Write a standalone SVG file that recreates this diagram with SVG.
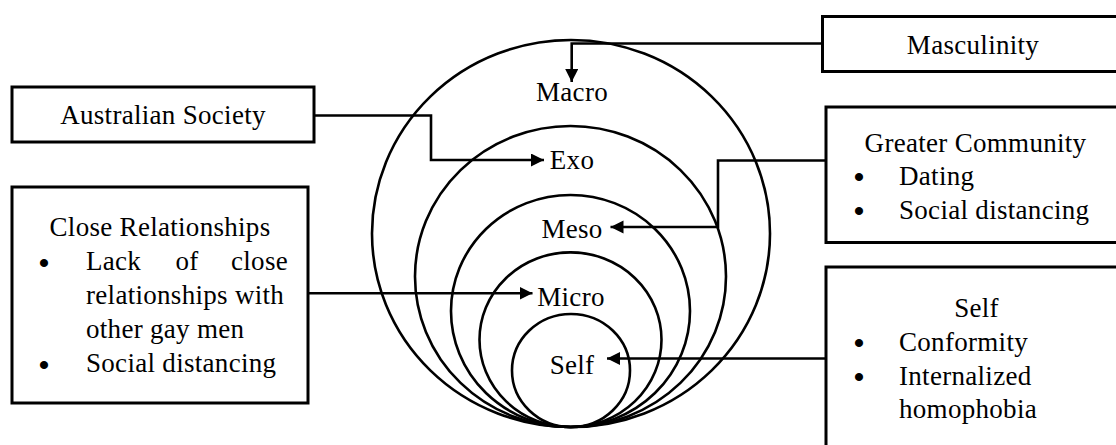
<svg xmlns="http://www.w3.org/2000/svg" width="1116" height="445" viewBox="0 0 1116 445">
<style>
.box{fill:#fff;stroke:#000;stroke-width:3}
.ring{fill:none;stroke:#000;stroke-width:2.6}
.conn{fill:none;stroke:#000;stroke-width:2.6;marker-end:url(#arr)}
.t{font-family:"Liberation Serif","Times New Roman",serif;font-size:27px;letter-spacing:0.3px;fill:#000}
.b{font-family:"Liberation Serif","Times New Roman",serif;font-size:30px;font-weight:bold;text-anchor:middle;fill:#000}
.m{text-anchor:middle}
.e{text-anchor:end}
</style>
<defs>
<marker id="arr" markerUnits="userSpaceOnUse" markerWidth="14" markerHeight="14" refX="13" refY="6.5" orient="auto">
<path d="M0,0 L13,6.5 L0,13 z" fill="#000"/>
</marker>
</defs>
<rect width="1116" height="445" fill="#fff"/>
<g id="rings">
<ellipse id="ring-macro" class="ring" cx="571" cy="233.5" rx="199" ry="193.5"/>
<ellipse id="ring-exo" class="ring" cx="570.5" cy="276.5" rx="155.5" ry="150.5"/>
<ellipse id="ring-meso" class="ring" cx="570.5" cy="311" rx="119.5" ry="116"/>
<ellipse id="ring-micro" class="ring" cx="570.5" cy="339.7" rx="91" ry="87.3"/>
<ellipse id="ring-self" class="ring" cx="571" cy="370.5" rx="59" ry="56.5"/>
<text class="t m" x="572" y="101">Macro</text>
<text class="t m" x="572" y="169">Exo</text>
<text class="t m" x="572" y="238">Meso</text>
<text class="t m" x="571" y="306">Micro</text>
<text class="t m" x="572" y="374">Self</text>
</g>
<g id="connectors">
<path class="conn" d="M822,43.5 H571.7 V82"/>
<path class="conn" d="M314,115.5 H431 V160 H544"/>
<path class="conn" d="M826,160.5 H718 V227 H610.5"/>
<path class="conn" d="M308,293.3 H532.5"/>
<path class="conn" d="M826,358.5 H607"/>
</g>
<g id="masculinity">
<rect class="box" x="822.5" y="16.5" width="310" height="55"/>
<text class="t m" x="973" y="54">Masculinity</text>
</g>
<g id="australian-society">
<rect class="box" x="12" y="87" width="302" height="55"/>
<text class="t m" x="163" y="123.5">Australian Society</text>
</g>
<g id="greater-community">
<rect class="box" x="826" y="107" width="310" height="135.5"/>
<text class="t m" x="975.5" y="152">Greater Community</text>
<text class="b" x="859" y="187.3">•</text>
<text class="t" x="899" y="185">Dating</text>
<text class="b" x="859" y="221.3">•</text>
<text class="t" x="899" y="219">Social distancing</text>
</g>
<g id="close-relationships">
<rect class="box" x="12" y="187" width="296" height="216"/>
<text class="t m" x="160" y="236">Close Relationships</text>
<text class="b" x="44" y="272.5">•</text>
<text class="t" x="86" y="270">Lack</text>
<text class="t m" x="187" y="270">of</text>
<text class="t e" x="288" y="270">close</text>
<text class="t" x="86" y="304">relationships with</text>
<text class="t" x="86" y="338">other gay men</text>
<text class="b" x="44" y="374.5">•</text>
<text class="t" x="86" y="372">Social distancing</text>
</g>
<g id="self">
<rect class="box" x="826" y="267" width="310" height="200"/>
<text class="t m" x="976.5" y="317">Self</text>
<text class="b" x="859" y="353.3">•</text>
<text class="t" x="899" y="351">Conformity</text>
<text class="b" x="859" y="387.3">•</text>
<text class="t" x="899" y="385">Internalized</text>
<text class="t" x="899" y="418">homophobia</text>
</g>
</svg>
